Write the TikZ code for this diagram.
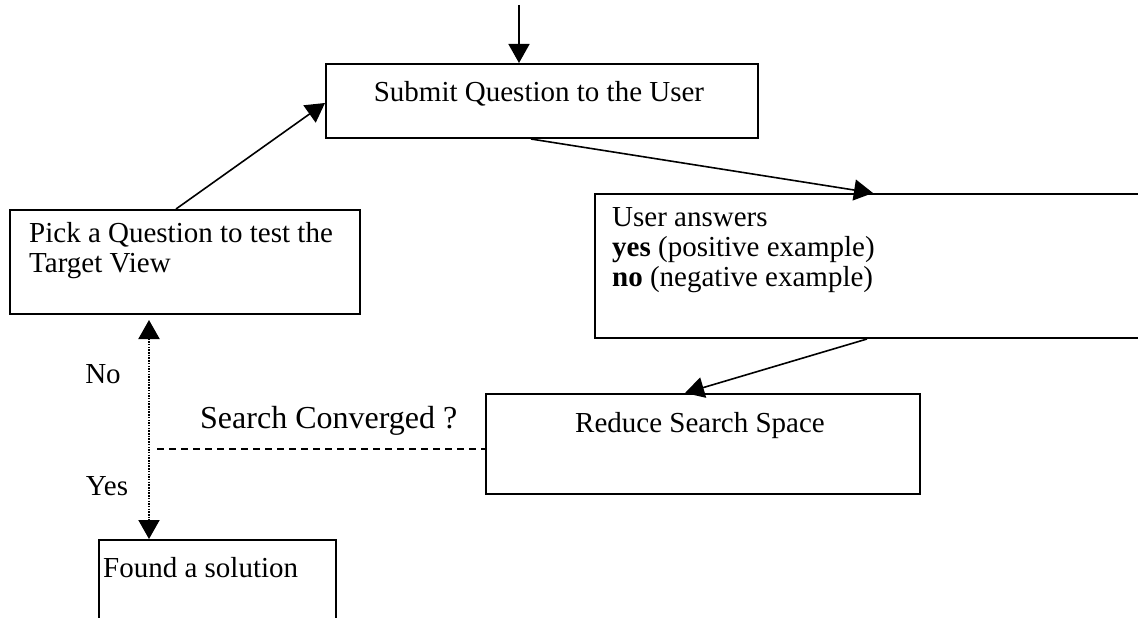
\documentclass[tikz,border=0pt]{standalone}
\usepackage{fontspec}
\setmainfont{Liberation Serif}
\usetikzlibrary{calc}
\usetikzlibrary{arrows.meta}

\tikzset{
	box/.style={draw, line width=2pt, rectangle, inner sep=0pt, anchor=north west},
	txt/.style={inner sep=0pt, font=\fontsize{29}{30}\selectfont},
	flow/.style={line width=1.6pt, -{Triangle[length=19pt,width=21pt]}}
}

\begin{document}
\begin{tikzpicture}[x=1pt,y=-1pt]
	
	\useasboundingbox (0,0) rectangle (1138,618);
	\clip (0,0) rectangle (1138,618);
	
	% As caixas
	\node [box, minimum width=432pt, minimum height=74pt] (submit) at (325,63) {};
	\node [box, minimum width=350pt, minimum height=104pt] (pick) at (9,209) {};
	\node [box, minimum width=600pt, minimum height=144pt] (answers) at (594,193) {};
	\node [box, minimum width=434pt, minimum height=100pt] (reduce) at (485,393) {};
	\node [box, minimum width=237pt, minimum height=120pt] (found) at (98,539) {};
	
	% Os textos das caixas (base = última linha)
	\node [txt, anchor=base] (submittxt) at (539,102) {Submit Question to the User};
	\node [txt, anchor=base west, align=left] (picktxt) at (29,272) {Pick a Question to test the\\Target View};
	\node [txt, anchor=base west, align=left] (answerstxt) at (612,286) {User answers\\\textbf{yes} (positive example)\\\textbf{no} (negative example)};
	\node [txt, anchor=base] (reducetxt) at (700,432) {Reduce Search Space};
	\node [txt, anchor=base west] (foundtxt) at (103,577) {Found a solution};
	
	% Os pontos auxiliares
	\coordinate (entry) at (519,5);
	\coordinate (gate) at (149,449);
	
	% As flechas do ciclo
	\draw [flow] (entry) -- (entry |- submit.north);
	\draw [flow] ($(pick.north)+(-9,0)$) -- ($(submit.west)+(0,2)$);
	\draw [flow] ($(submit.south)+(-11,0)$) -- ($(answers.north west)+(279,0)$);
	\draw [flow] ($(answers.south west)+(273,0)$) -- ($(reduce.north)+(-18,0)$);
	
	% A flecha pontilhada
	\draw [line width=2pt, dash pattern=on 1.5pt off 1.2pt, {Triangle[length=19pt,width=21pt]}-{Triangle[length=19pt,width=21pt]}, shorten <=5pt] (gate |- pick.south) -- (gate |- found.north);
	
	% A linha tracejada
	\draw [line width=1.6pt, dash pattern=on 7pt off 5pt] ($(gate)+(8,0)$) -- (reduce.west |- gate);
	
	% Rótulos
	\node [txt, anchor=base] (no) at (103,383) {No};
	\node [txt, anchor=base] (yes) at (107,495) {Yes};
	\node [txt, anchor=base west, font=\fontsize{32}{34}\selectfont] (converged) at (200,428) {Search Converged ?};
	
\end{tikzpicture}
\end{document}
